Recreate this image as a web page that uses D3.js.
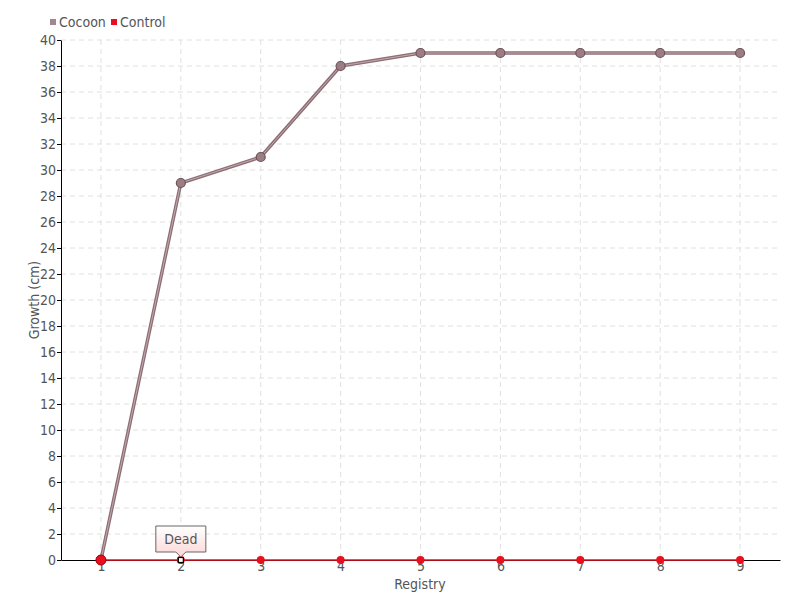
<!DOCTYPE html>
<html>
<head>
<meta charset="utf-8">
<script src="https://cdn.jsdelivr.net/npm/d3@7"></script>
<style>
  body { margin: 0; background: #fff; }
  text { font-family: "DejaVu Sans", sans-serif; font-stretch: condensed; }
</style>
</head>
<body>
<div id="canvas"></div>
<script>
var registry = [1, 2, 3, 4, 5, 6, 7, 8, 9];
var cocoon = [0, 29, 31, 38, 39, 39, 39, 39, 39];
var control = [0, 0, 0, 0, 0, 0, 0, 0, 0];
var yTicks = d3.range(0, 41, 2);
var seriesNames = ['Cocoon', 'Control'];
var seriesColors = ['#a3878d', '#e8101e'];
var note = {x: 2, label: 'Dead'};

var svg = d3.select('#canvas').append('svg')
  .attr('width', 800)
  .attr('height', 600);

var x = d3.scaleLinear().domain([0.5, 9.5]).range([61, 780]);
var y = d3.scaleLinear().domain([0, 40]).range([560, 40]);

// grid
svg.append('g').selectAll('line').data(yTicks.slice(1)).join('line')
  .attr('x1', 61).attr('x2', 780)
  .attr('y1', d => y(d)).attr('y2', d => y(d))
  .attr('stroke', '#e0e0e0').attr('stroke-dasharray', '5,4');
svg.append('g').selectAll('line').data(registry).join('line')
  .attr('x1', d => x(d)).attr('x2', d => x(d))
  .attr('y1', 40).attr('y2', 560)
  .attr('stroke', '#e0e0e0').attr('stroke-dasharray', '5,4');

// axes
var yAxis = svg.append('g')
  .attr('transform', 'translate(61,0)')
  .call(d3.axisLeft(y).tickValues(yTicks).tickSize(4).tickSizeOuter(0));
var xAxis = svg.append('g')
  .attr('transform', 'translate(0,560)')
  .call(d3.axisBottom(x).tickValues(registry).tickSize(4).tickSizeOuter(0));
[yAxis, xAxis].forEach(function(a) {
  a.select('.domain').attr('stroke', '#000');
  a.selectAll('.tick line').attr('stroke', '#000');
  a.selectAll('.tick text').attr('fill', '#555').style('font-size', '14px');
});
yAxis.selectAll('.tick text').attr('x', -5);
xAxis.selectAll('.tick text').attr('y', 1);

svg.append('text')
  .attr('x', 420).attr('y', 589)
  .attr('text-anchor', 'middle')
  .attr('fill', '#555').style('font-size', '14px')
  .text('Registry');
svg.append('text')
  .attr('transform', 'translate(39,300) rotate(-90)')
  .attr('text-anchor', 'middle')
  .attr('fill', '#555').style('font-size', '14px')
  .text('Growth (cm)');

var line = d3.line().x((d, i) => x(registry[i])).y(d => y(d));

// cocoon series
svg.append('path').datum(cocoon)
  .attr('d', line).attr('fill', 'none')
  .attr('stroke', '#8c6e75').attr('stroke-width', 3.5);
svg.append('path').datum(cocoon)
  .attr('d', line).attr('fill', 'none')
  .attr('stroke', '#c4a9ae').attr('stroke-width', 1);
svg.append('g').selectAll('circle').data(cocoon).join('circle')
  .attr('cx', (d, i) => x(registry[i])).attr('cy', d => y(d))
  .attr('r', 4.5)
  .attr('fill', '#9b7d84').attr('stroke', '#6f5359').attr('stroke-width', 1.2);

// control series
svg.append('path').datum(control)
  .attr('d', line).attr('fill', 'none')
  .attr('stroke', seriesColors[1]).attr('stroke-width', 1.5);
svg.append('g').selectAll('circle').data(control).join('circle')
  .attr('cx', (d, i) => x(registry[i])).attr('cy', d => y(d))
  .attr('r', (d, i) => i == 0 ? 5 : 4)
  .attr('fill', seriesColors[1])
  .attr('stroke', (d, i) => i == 0 ? '#b00010' : 'none');

// highlighted point + note
var nx = x(note.x), ny = y(control[note.x - 1]);
svg.append('rect')
  .attr('x', nx - 2.5).attr('y', ny - 2.5)
  .attr('width', 5).attr('height', 5)
  .attr('fill', '#fff').attr('stroke', '#000').attr('stroke-width', 1.2);

var defs = svg.append('defs');
var grad = defs.append('linearGradient')
  .attr('id', 'noteGrad').attr('x1', 0).attr('y1', 0).attr('x2', 0).attr('y2', 1);
grad.append('stop').attr('offset', '0%').attr('stop-color', '#fff');
grad.append('stop').attr('offset', '100%').attr('stop-color', '#fcd6d6');

var bx = nx - 25, by = ny - 34, bw = 50, bh = 26;
svg.append('path')
  .attr('d', 'M' + bx + ',' + by + 'h' + bw + 'v' + bh + 'h' + (-(bw / 2 - 5)) +
    'l-5,5l-5,-5h' + (-(bw / 2 - 5)) + 'z')
  .attr('fill', 'url(#noteGrad)')
  .attr('stroke', '#666').attr('stroke-width', 1);
svg.append('text')
  .attr('x', nx).attr('y', by + 18)
  .attr('text-anchor', 'middle')
  .attr('fill', '#555').style('font-size', '14px')
  .text(note.label);

// legend
var legend = svg.append('g');
var lx = [50, 111];
seriesNames.forEach(function(name, i) {
  legend.append('rect')
    .attr('x', lx[i]).attr('y', 19)
    .attr('width', 6).attr('height', 6)
    .attr('fill', seriesColors[i]);
  legend.append('text')
    .attr('x', lx[i] + 9).attr('y', 27)
    .attr('fill', '#555').style('font-size', '14px')
    .text(name);
});
</script>
</body>
</html>
